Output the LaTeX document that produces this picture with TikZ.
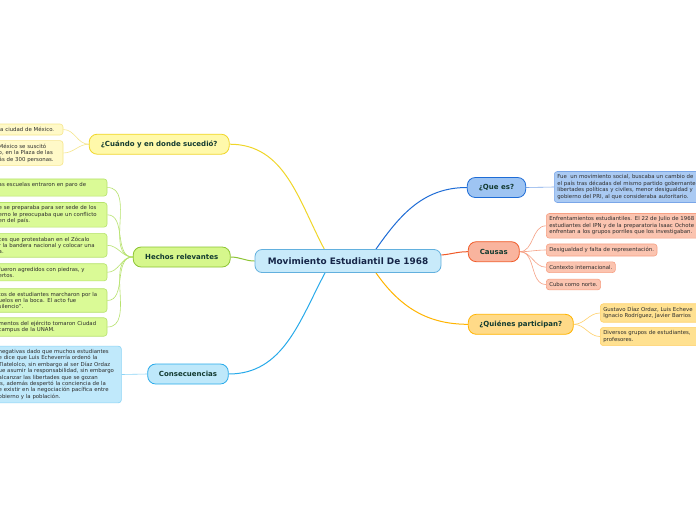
\documentclass[tikz,border=0pt]{standalone}
\usepackage{fontspec}
\setmainfont{DejaVu Sans}
\usepackage{tikz}
\usetikzlibrary{positioning, backgrounds}
\definecolor{mainfill}{RGB}{200,234,250}
\definecolor{mainline}{RGB}{98,176,222}
\definecolor{maintext}{RGB}{22,38,72}
\definecolor{branchtext}{RGB}{18,58,48}
\definecolor{leaftext}{RGB}{45,45,45}
\definecolor{ylwfill}{RGB}{255,249,170}
\definecolor{ylwline}{RGB}{240,214,40}
\definecolor{ylwleaf}{RGB}{255,249,200}
\definecolor{ylwleafline}{RGB}{246,230,140}
\definecolor{grnfill}{RGB}{214,247,140}
\definecolor{grnline}{RGB}{140,196,50}
\definecolor{grnleaf}{RGB}{218,250,150}
\definecolor{grnleafline}{RGB}{182,226,108}
\definecolor{cyafill}{RGB}{190,232,250}
\definecolor{cyaline}{RGB}{40,170,234}
\definecolor{cyaleaf}{RGB}{192,233,251}
\definecolor{cyaleafline}{RGB}{140,212,246}
\definecolor{blufill}{RGB}{158,196,242}
\definecolor{bluline}{RGB}{30,108,214}
\definecolor{bluleaf}{RGB}{170,202,243}
\definecolor{bluleafline}{RGB}{122,166,232}
\definecolor{redfill}{RGB}{249,180,158}
\definecolor{redline}{RGB}{240,90,40}
\definecolor{redleaf}{RGB}{251,196,176}
\definecolor{redleafline}{RGB}{246,160,132}
\definecolor{orgfill}{RGB}{255,218,136}
\definecolor{orgline}{RGB}{255,180,0}
\definecolor{orgleaf}{RGB}{255,225,145}
\definecolor{orgleafline}{RGB}{255,208,104}
\tikzset{
  mainbox/.style={rectangle, draw=mainline, fill=mainfill, rounded corners=7pt,
    line width=0.8pt, font=\fontsize{8.9}{10}\selectfont\bfseries, text=maintext,
    minimum width=186, minimum height=23},
  branch/.style={rectangle, rounded corners=8pt, line width=0.8pt,
    font=\fontsize{7}{8}\selectfont\bfseries, text=branchtext,
    minimum height=20, inner xsep=0pt},
  leaf/.style={rectangle, rounded corners=3pt, line width=0.6pt,
    font=\fontsize{5.4}{6.4}\selectfont, text=leaftext, align=left,
    inner xsep=3pt, inner ysep=3.3pt},
  trunk/.style={line width=1pt},
  twig/.style={line width=0.6pt}
}

\begin{document}
\begin{tikzpicture}[x=1pt, y=-1pt]
  \useasboundingbox (0,0) rectangle (696,520);
  \clip (0,0) rectangle (696,520);

  % Central topic
  \node[mainbox] (main) at (348,261) {Movimiento Estudiantil De 1968};

  % Main branches
  \node[branch, draw=ylwline, fill=ylwfill, minimum width=140] (cuando) at (159.2,144.2) {¿Cuándo y en donde sucedió?};
  \node[branch, draw=grnline, fill=grnfill, minimum width=97] (hechos) at (181.7,257) {Hechos relevantes};
  \node[branch, draw=cyaline, fill=cyafill, minimum width=80.6] (conse) at (188,374) {Consecuencias};
  \node[branch, draw=bluline, fill=blufill, minimum width=58.4] (quees) at (496.5,187.5) {¿Que es?};
  \node[branch, draw=redline, fill=redfill, minimum width=51] (causas) at (493.8,251.7) {Causas};
  \node[branch, draw=orgline, fill=orgfill, minimum width=105] (quienes) at (520.8,324.3) {¿Quiénes participan?};

  % Leaves on the left
  \node[leaf, draw=ylwleafline, fill=ylwleaf, anchor=east, text width=61.3] (c1) at (63.3,129.5) {la ciudad de México.};
  \node[leaf, draw=ylwleafline, fill=ylwleaf, anchor=east, text width=61.3] (c2) at (63.3,153) {México se suscitó\\o, en la Plaza de las\\ás de 300 personas.};

  \node[leaf, draw=grnleafline, fill=grnleaf, anchor=east, text width=105.3] (h1) at (107.3,187.5) {as escuelas entraron en paro de\\\mbox{}};
  \node[leaf, draw=grnleafline, fill=grnleaf, anchor=east, text width=105.3] (h2) at (107.3,214.8) {e se preparaba para ser sede de los\\erno le preocupaba que un conflicto\\en del país.};
  \node[leaf, draw=grnleafline, fill=grnleaf, anchor=east, text width=105.3] (h3) at (107.3,245.3) {ces que protestaban en el Zócalo\\r la bandera nacional y colocar una\\a.};
  \node[leaf, draw=grnleafline, fill=grnleaf, anchor=east, text width=105.3] (h4) at (107.3,272.3) {fueron agredidos con piedras, y\\ertos.};
  \node[leaf, draw=grnleafline, fill=grnleaf, anchor=east, text width=105.3] (h5) at (107.3,300.5) {tos de estudiantes marcharon por la\\uelos en la boca. El acto fue\\ silencio”.};
  \node[leaf, draw=grnleafline, fill=grnleaf, anchor=east, text width=105.3] (h6) at (107.3,327) {mentos del ejército tomaron Ciudad\\ campus de la UNAM.};

  \node[leaf, draw=cyaleafline, fill=cyaleaf, anchor=east, text width=119.7] (k1) at (121.7,374.5) {negativas dado que muchos estudiantes\\e dice que Luis Echeverría ordenó la\\Tlatelolco, sin embargo al ser Díaz Ordaz\\ue asumir la responsabilidad, sin embargo\\ alcanzar las libertades que se gozan\\ís, además despertó la conciencia de la\\e existir en la negociación pacífica entre\\obierno y la población.};

  % Leaves on the right
  \node[leaf, draw=bluleafline, fill=bluleaf, anchor=west, text width=200] (q1) at (554,187) {Fue\ \ un movimiento social, buscaba un cambio de\\el país tras décadas del mismo partido gobernante\\libertades políticas y civiles, menor desigualdad y\\gobierno del PRI, al que consideraba autoritario.};

  \node[leaf, draw=redleafline, fill=redleaf, anchor=west, text width=200] (r1) at (546,225.8) {Enfrentamientos estudiantiles. El 22 de Julio de 1968\\estudiantes del IPN y de la preparatoria Isaac Ochote\\enfrentan a los grupos porriles que los investigaban.};
  \node[leaf, draw=redleafline, fill=redleaf, anchor=west] (r2) at (546,250) {Desigualdad y falta de representación.};
  \node[leaf, draw=redleafline, fill=redleaf, anchor=west] (r3) at (546,267.2) {Contexto internacional.};
  \node[leaf, draw=redleafline, fill=redleaf, anchor=west] (r4) at (546,284.5) {Cuba como norte.};

  \node[leaf, draw=orgleafline, fill=orgleaf, anchor=west, text width=200] (p1) at (600,313) {Gustavo Díaz Ordaz, Luis Echeve\\Ignacio Rodríguez, Javier Barrios};
  \node[leaf, draw=orgleafline, fill=orgleaf, anchor=west, text width=200] (p2) at (600,336.5) {Diversos grupos de estudiantes,\\profesores.};

  % Connectors
  \begin{scope}[on background layer]
    \fill[white] (0,0) rectangle (696,520);
    \draw[trunk, ylwline] ([xshift=-23.7]main.north) to[out=118, in=0] (cuando.east);
    \draw[trunk, grnline] (main.west) to[out=180, in=0] (hechos.east);
    \draw[trunk, cyaline] ([xshift=-23]main.south) to[out=-118, in=0] (conse.east);
    \draw[trunk, bluline] ([xshift=28]main.north) to[out=55, in=180] (quees.west);
    \draw[trunk, redline] ([yshift=6]main.east) to[out=5, in=180] (causas.west);
    \draw[trunk, orgline] ([xshift=28]main.south) to[out=-55, in=180] (quienes.west);

    \foreach \leafname in {c1, c2}
      \draw[twig, ylwleafline] (cuando.west) to[out=180, in=0] (\leafname.east);
    \foreach \leafname in {h1, h2, h3, h4, h5, h6}
      \draw[twig, grnleafline] (hechos.west) to[out=180, in=0] (\leafname.east);
    \draw[twig, cyaleafline] (conse.west) -- (k1.east);
    \draw[twig, bluleafline] (quees.east) -- (q1.west);
    \foreach \leafname in {r1, r2, r3, r4}
      \draw[twig, redleafline] (causas.east) to[out=0, in=180] (\leafname.west);
    \foreach \leafname in {p1, p2}
      \draw[twig, orgleafline] (quienes.east) to[out=0, in=180] (\leafname.west);
  \end{scope}
\end{tikzpicture}
\end{document}
